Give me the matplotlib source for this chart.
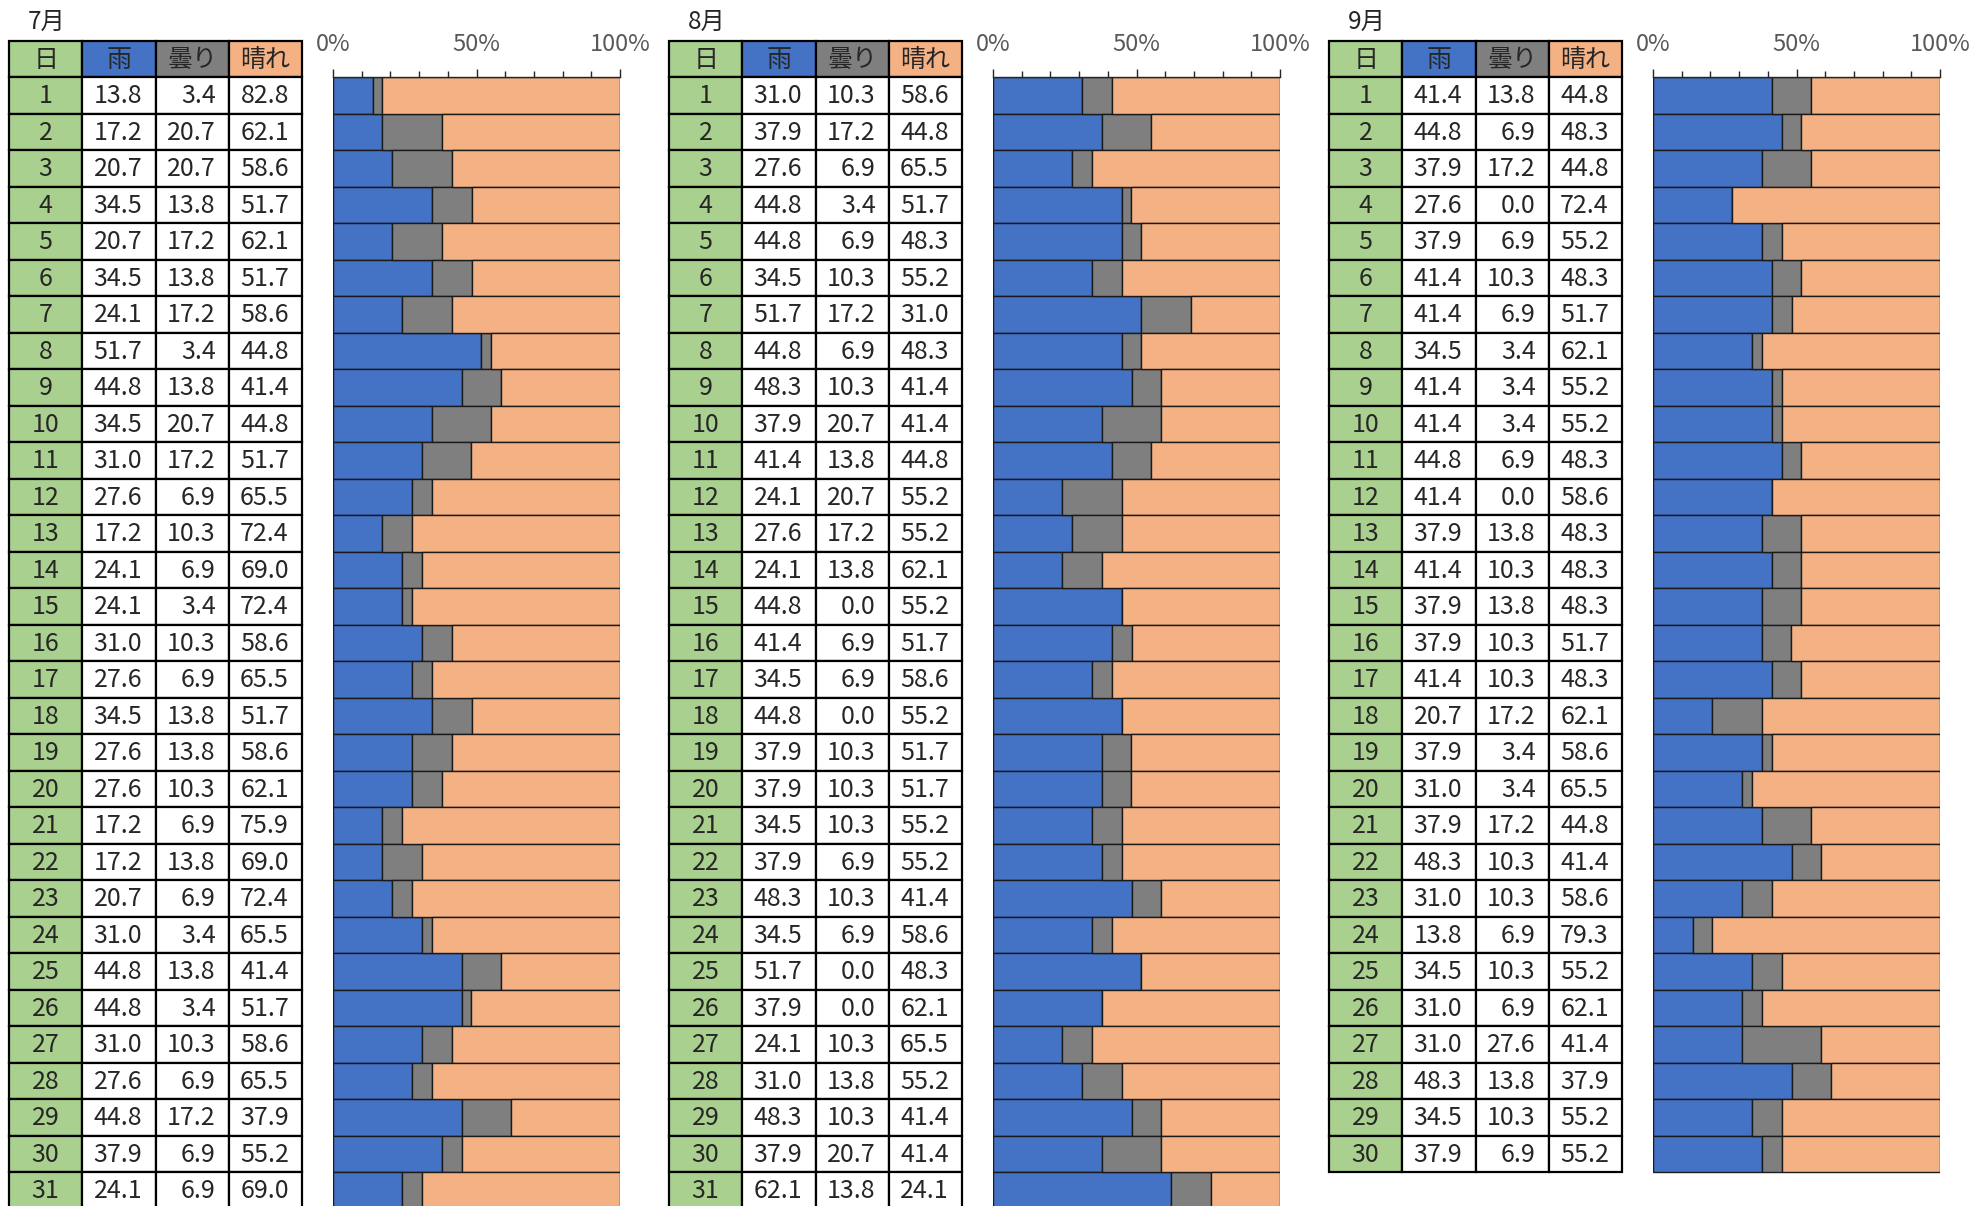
import numpy as np
import matplotlib
matplotlib.use("Agg")
from matplotlib import pyplot as plt
from matplotlib.patches import Rectangle
from matplotlib.ticker import MultipleLocator, FixedLocator, PercentFormatter

plt.rcParams['font.family'] = ['Noto Sans CJK JP', 'DejaVu Sans']

months = ["7月", "8月", "9月"]
headers = ["日", "雨", "曇り", "晴れ"]

jul_rain = [13.8, 17.2, 20.7, 34.5, 20.7, 34.5, 24.1, 51.7, 44.8, 34.5, 31.0, 27.6, 17.2, 24.1, 24.1, 31.0,
            27.6, 34.5, 27.6, 27.6, 17.2, 17.2, 20.7, 31.0, 44.8, 44.8, 31.0, 27.6, 44.8, 37.9, 24.1]
jul_cloud = [3.4, 20.7, 20.7, 13.8, 17.2, 13.8, 17.2, 3.4, 13.8, 20.7, 17.2, 6.9, 10.3, 6.9, 3.4, 10.3,
             6.9, 13.8, 13.8, 10.3, 6.9, 13.8, 6.9, 3.4, 13.8, 3.4, 10.3, 6.9, 17.2, 6.9, 6.9]
jul_sun = [82.8, 62.1, 58.6, 51.7, 62.1, 51.7, 58.6, 44.8, 41.4, 44.8, 51.7, 65.5, 72.4, 69.0, 72.4, 58.6,
           65.5, 51.7, 58.6, 62.1, 75.9, 69.0, 72.4, 65.5, 41.4, 51.7, 58.6, 65.5, 37.9, 55.2, 69.0]

aug_rain = [31.0, 37.9, 27.6, 44.8, 44.8, 34.5, 51.7, 44.8, 48.3, 37.9, 41.4, 24.1, 27.6, 24.1, 44.8, 41.4,
            34.5, 44.8, 37.9, 37.9, 34.5, 37.9, 48.3, 34.5, 51.7, 37.9, 24.1, 31.0, 48.3, 37.9, 62.1]
aug_cloud = [10.3, 17.2, 6.9, 3.4, 6.9, 10.3, 17.2, 6.9, 10.3, 20.7, 13.8, 20.7, 17.2, 13.8, 0.0, 6.9,
             6.9, 0.0, 10.3, 10.3, 10.3, 6.9, 10.3, 6.9, 0.0, 0.0, 10.3, 13.8, 10.3, 20.7, 13.8]
aug_sun = [58.6, 44.8, 65.5, 51.7, 48.3, 55.2, 31.0, 48.3, 41.4, 41.4, 44.8, 55.2, 55.2, 62.1, 55.2, 51.7,
           58.6, 55.2, 51.7, 51.7, 55.2, 55.2, 41.4, 58.6, 48.3, 62.1, 65.5, 55.2, 41.4, 41.4, 24.1]

sep_rain = [41.4, 44.8, 37.9, 27.6, 37.9, 41.4, 41.4, 34.5, 41.4, 41.4, 44.8, 41.4, 37.9, 41.4, 37.9, 37.9,
            41.4, 20.7, 37.9, 31.0, 37.9, 48.3, 31.0, 13.8, 34.5, 31.0, 31.0, 48.3, 34.5, 37.9]
sep_cloud = [13.8, 6.9, 17.2, 0.0, 6.9, 10.3, 6.9, 3.4, 3.4, 3.4, 6.9, 0.0, 13.8, 10.3, 13.8, 10.3,
             10.3, 17.2, 3.4, 3.4, 17.2, 10.3, 10.3, 6.9, 10.3, 6.9, 27.6, 13.8, 10.3, 6.9]
sep_sun = [44.8, 48.3, 44.8, 72.4, 55.2, 48.3, 51.7, 62.1, 55.2, 55.2, 48.3, 58.6, 48.3, 48.3, 48.3, 51.7,
           48.3, 62.1, 58.6, 65.5, 44.8, 41.4, 58.6, 79.3, 55.2, 62.1, 41.4, 37.9, 55.2, 55.2]

data = [(jul_rain, jul_cloud, jul_sun), (aug_rain, aug_cloud, aug_sun), (sep_rain, sep_cloud, sep_sun)]

c_day = '#A9D08E'
c_rain = '#4472C4'
c_cloud = '#7F7F7F'
c_sun = '#F4B183'
head_colors = [c_day, c_rain, c_cloud, c_sun]
txt = '#262626'

W, H = 1972, 1206
fig = plt.figure(figsize=(W / 100, H / 100), dpi=100)


def fx(px):
    return px / W


def fy(py):
    return 1 - py / H


row_h = 36.5
head_top = 40.7
row_top = head_top + row_h
n_max = 31

for k, (month, (rain, cloud, sun)) in enumerate(zip(months, data)):
    off = 660 * k
    n = len(rain)
    days = np.arange(1, n + 1)

    # title
    fig.text(fx(28 + off), fy(22), month, ha='left', va='center', fontsize=17.5, color=txt)

    # table
    tl, tw = 9 + off, 293
    ax_t = fig.add_axes([fx(tl), fy(head_top + (n_max + 1) * row_h), tw / W, (n_max + 1) * row_h / H])
    ax_t.set_xlim(0, 4)
    ax_t.set_ylim(n_max + 1, 0)
    ax_t.axis('off')
    for c, name in enumerate(headers):
        ax_t.add_patch(Rectangle((c, 0), 1, 1, facecolor=head_colors[c], edgecolor='black',
                                 lw=1.6, clip_on=False))
        ax_t.text(c + 0.5, 0.52, name, ha='center', va='center', fontsize=18, color=txt)
    for i, d in enumerate(days):
        r = i + 1
        ax_t.add_patch(Rectangle((0, r), 1, 1, facecolor=c_day, edgecolor='black', lw=1.6, clip_on=False))
        ax_t.text(0.5, r + 0.52, str(d), ha='center', va='center', fontsize=18, color=txt)
        for c, vals in enumerate([rain, cloud, sun], 1):
            ax_t.add_patch(Rectangle((c, r), 1, 1, facecolor='white', edgecolor='black', lw=1.6, clip_on=False))
            ax_t.text(c + 0.82, r + 0.52, f"{vals[i]:.1f}", ha='right', va='center', fontsize=18, color=txt)

    # bars
    bl, bw = 333 + off, 287
    ax = fig.add_axes([fx(bl), fy(row_top + n_max * row_h), bw / W, n_max * row_h / H])
    r_ = np.array(rain)
    c_ = np.array(cloud)
    s_ = np.array(sun)
    ax.barh(days, r_, height=1.0, color=c_rain, edgecolor='#1a1a1a', lw=1.0)
    ax.barh(days, c_, left=r_, height=1.0, color=c_cloud, edgecolor='#1a1a1a', lw=1.0)
    ax.barh(days, s_, left=r_ + c_, height=1.0, color=c_sun, edgecolor='#1a1a1a', lw=1.0)
    ax.set_xlim(0, 100)
    ax.set_ylim(n_max + 0.5, 0.5)
    ax.set_yticks([])
    for s in ['left', 'right', 'bottom']:
        ax.spines[s].set_visible(False)
    ax.spines['top'].set_color('#262626')
    ax.spines['top'].set_linewidth(1.0)
    ax.xaxis.set_major_locator(FixedLocator([0, 50, 100]))
    ax.xaxis.set_minor_locator(MultipleLocator(10))
    ax.xaxis.set_major_formatter(PercentFormatter(100, decimals=0))
    ax.tick_params(axis='x', which='both', top=True, bottom=False, labeltop=True, labelbottom=False,
                   direction='out', color='#262626', width=1.0)
    ax.tick_params(axis='x', which='major', length=6, pad=9, labelsize=17, labelcolor='#595959')
    ax.tick_params(axis='x', which='minor', length=4)

fig.savefig('out.png', dpi=100)
